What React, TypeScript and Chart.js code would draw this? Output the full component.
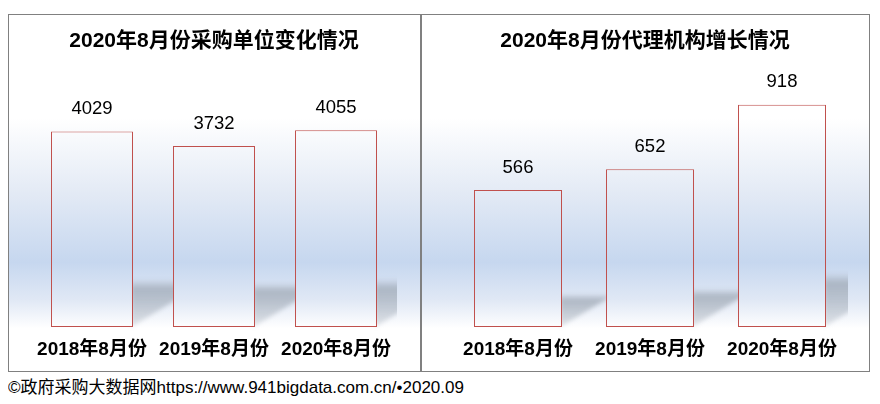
import React, { useEffect, useRef } from "react";
import { Chart, registerables } from "chart.js";

Chart.register(...registerables);

const categories = ["2018年8月份", "2019年8月份", "2020年8月份"];
const purchaserValues = [4029, 3732, 4055];
const agencyValues = [566, 652, 918];
const purchaserTitle = "2020年8月份采购单位变化情况";
const agencyTitle = "2020年8月份代理机构增长情况";
const purchaserMax = 5423;
const agencyMax = 1086.5;
const footerText = "©政府采购大数据网https://www.941bigdata.com.cn/•2020.09";

const FONT = '"Liberation Sans", "Noto Sans CJK SC", sans-serif';

function bgGradient(ctx: CanvasRenderingContext2D, h: number) {
  const g = ctx.createLinearGradient(0, 0, 0, h);
  g.addColorStop(0, "#ffffff");
  g.addColorStop(0.29, "#ffffff");
  g.addColorStop(0.5, "#e3eaf5");
  g.addColorStop(0.694, "#c6d7ef");
  g.addColorStop(0.8, "#e0e8f5");
  g.addColorStop(0.88, "#ffffff");
  g.addColorStop(1, "#ffffff");
  return g;
}

const backgroundPlugin = {
  id: "bgPlugin",
  beforeDraw(chart: any) {
    const { ctx, width, height } = chart;
    ctx.save();
    ctx.fillStyle = bgGradient(ctx, height);
    ctx.fillRect(0, 0, width, height);
    ctx.restore();
  },
};

const shadowPlugin = {
  id: "shadowPlugin",
  beforeDatasetsDraw(chart: any) {
    const { ctx, chartArea } = chart;
    const meta = chart.getDatasetMeta(0);
    ctx.save();
    ctx.beginPath();
    ctx.rect(0, 0, chartArea.right, chart.height);
    ctx.clip();
    ctx.filter = "blur(2px)";
    meta.data.forEach((bar: any) => {
      const { x, y, base, width } = bar.getProps(["x", "y", "base", "width"], true);
      const right = x + width / 2;
      const h = (base - y) * 0.245;
      const top = base - h;
      const slope = 0.62;
      const g = ctx.createLinearGradient(0, top, 0, base);
      g.addColorStop(0, "rgba(150,160,172,0)");
      g.addColorStop(0.2, "rgba(150,160,172,0.66)");
      g.addColorStop(1, "rgba(150,160,172,0.25)");
      ctx.fillStyle = g;
      ctx.beginPath();
      ctx.moveTo(right - 2, base);
      ctx.lineTo(right - 2, top);
      ctx.lineTo(right + h / slope, top);
      ctx.closePath();
      ctx.fill();
    });
    ctx.restore();
  },
};

const valueLabelPlugin = {
  id: "valueLabels",
  afterDatasetsDraw(chart: any) {
    const { ctx } = chart;
    const meta = chart.getDatasetMeta(0);
    const data = chart.data.datasets[0].data;
    ctx.save();
    ctx.fillStyle = "#000";
    ctx.font = `18.5px ${FONT}`;
    ctx.textAlign = "center";
    ctx.textBaseline = "middle";
    meta.data.forEach((bar: any, i: number) => {
      const { x, y } = bar.getProps(["x", "y"], true);
      ctx.fillText(String(data[i]), x, y - 22.5);
    });
    ctx.restore();
  },
};

type PanelProps = {
  title: string;
  values: number[];
  max: number;
  width: number;
  padL: number;
  padR: number;
  yW: number;
  barPct: number;
};

function Panel({ title, values, max, width, padL, padR, yW, barPct }: PanelProps) {
  const ref = useRef<HTMLCanvasElement | null>(null);
  useEffect(() => {
    if (!ref.current) return;
    const chart = new Chart(ref.current, {
      type: "bar",
      data: {
        labels: categories,
        datasets: [
          {
            data: values,
            backgroundColor: (c: any) => bgGradient(c.chart.ctx, c.chart.height),
            borderColor: "#c0504d",
            borderWidth: 1,
            borderSkipped: false,
            barPercentage: barPct,
            categoryPercentage: 1,
          },
        ],
      },
      options: {
        responsive: false,
        animation: false,
        devicePixelRatio: 1,
        layout: { padding: { left: padL, right: padR, top: 0, bottom: 9.7 } },
        plugins: {
          legend: { display: false },
          tooltip: { enabled: false },
          title: {
            display: true,
            text: title,
            color: "#000",
            font: { family: FONT, size: 21, weight: "bold", lineHeight: 1.2 },
            padding: { top: 14, bottom: 9.8 },
          },
        },
        scales: {
          x: {
            grid: { display: false, drawTicks: true, tickLength: 11.5 },
            border: { display: false },
            ticks: {
              color: "#000",
              font: { family: FONT, size: 19, weight: "bold", lineHeight: 1.2 },
              padding: 0,
              maxRotation: 0,
              autoSkip: false,
            },
          },
          y: {
            display: true,
            min: 0,
            max,
            grid: { display: false, drawTicks: false },
            border: { display: false },
            ticks: { display: false },
            afterFit: (s: any) => {
              s.width = yW;
            },
          },
        },
      } as any,
      plugins: [backgroundPlugin, shadowPlugin, valueLabelPlugin],
    });
    return () => chart.destroy();
  }, [title, values, max, width, padL, padR, yW, barPct]);
  return (
    <div style={{ border: "1px solid #808080", width, height: 356 }}>
      <canvas ref={ref} width={width} height={356} style={{ display: "block" }} />
    </div>
  );
}

export default function App() {
  return (
    <div>
      <div style={{ display: "flex", marginTop: 6 }}>
        <Panel
          title={purchaserTitle}
          values={purchaserValues}
          max={purchaserMax}
          width={411}
          padL={22}
          padR={23}
          yW={0}
          barPct={82.001 / 122}
        />
        <Panel
          title={agencyTitle}
          values={agencyValues}
          max={agencyMax}
          width={447}
          padL={20}
          padR={21}
          yW={10}
          barPct={88.001 / 132}
        />
      </div>
      <div
        style={{
          fontFamily: FONT,
          fontSize: 17,
          lineHeight: "20px",
          marginTop: 6,
          color: "#000",
          whiteSpace: "nowrap",
        }}
      >
        {footerText}
      </div>
    </div>
  );
}
